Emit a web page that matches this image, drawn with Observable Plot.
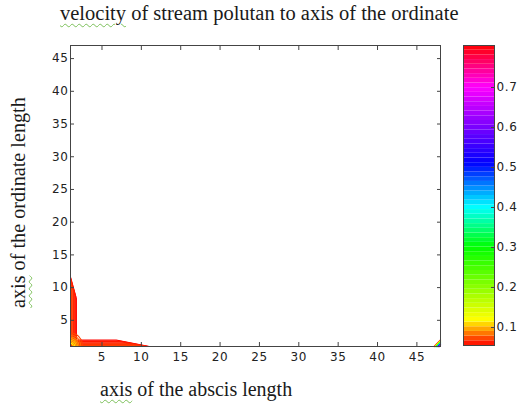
<!DOCTYPE html>
<html>
<head>
<meta charset="utf-8">
<script src="https://cdn.jsdelivr.net/npm/d3@7"></script>
<script src="https://cdn.jsdelivr.net/npm/@observablehq/plot@0.6"></script>
<style>
  html, body { margin: 0; padding: 0; background: #fff; }
  #wrap { position: relative; width: 520px; height: 406px; overflow: hidden; background: #fff; }
  .lbl { position: absolute; white-space: nowrap; font-family: "Liberation Serif", "Times New Roman", serif;
         font-size: 20px; line-height: 20px; color: #1a1a1a; }
  .sq { text-decoration: underline wavy #7cc05a; text-decoration-thickness: 1px; text-underline-offset: 3px; }
  #cb { position: absolute; left: 463px; top: 40px; }
  #main { position: absolute; left: 0; top: 0; }
  svg text { letter-spacing: 0.6px; }
</style>
</head>
<body>
<div id="wrap">
  <div id="main"></div>
  <div id="cb"></div>
  <div class="lbl" id="title" style="left:60px; top:3px; font-size:20.5px;"><span class="sq">velocity</span> of stream polutan to axis of the ordinate</div>
  <div class="lbl" id="xlab" style="left:100px; top:379px;"><span class="sq">axis</span> of the abscis length</div>
  <div class="lbl" id="ylab" style="left:8px; top:308px; font-size:20.2px; transform: rotate(-90deg); transform-origin: 0 0;"><span class="sq">axis</span> of the ordinate length</div>
</div>
<script>
// ---- axis ticks ----
const xTicks = [5, 10, 15, 20, 25, 30, 35, 40, 45];
const yTicks = [5, 10, 15, 20, 25, 30, 35, 40, 45];
const cbTicks = [0.1, 0.2, 0.3, 0.4, 0.5, 0.6, 0.7];
const xDomain = [1, 48];
const yDomain = [1, 47];
const cbDomain = [0.055, 0.805];

// ---- colormap (hsv-like) ----
const colorStops = [0.055, 0.118, 0.30, 0.40, 0.51, 0.70, 0.805];
const colorRange = ["#ff0000", "#ffff00", "#00ff00", "#00ffff", "#0000ff", "#ff00ff", "#ff0000"];

// ---- L-shaped contours along the axes (level, where each meets the axes) ----
const lLevels = [0.056, 0.058, 0.060, 0.062, 0.064, 0.066, 0.068, 0.070];
const lTopY   = [11.6, 11.5, 11.4, 11.3, 11.2, 11.0, 10.8, 10.5];
const lKneeY  = [8.3, 8.6, 8.9, 9.2, 9.5, 9.7, 9.9, 10.0];
const lStripX = [1.75, 1.66, 1.57, 1.48, 1.39, 1.30, 1.21, 1.12];
const lStripY = [2.0, 1.88, 1.76, 1.64, 1.52, 1.40, 1.28, 1.16];
const lKneeX  = [6.8, 7.1, 7.4, 7.7, 8.0, 8.3, 8.6, 8.9];
const lEndX   = [11.0, 10.9, 10.8, 10.7, 10.6, 10.5, 10.4, 10.3];

// ---- corner contours near the origin ----
const cLevels = [0.072, 0.080, 0.088, 0.096, 0.104, 0.112, 0.120];
const cRadius = [1.3, 1.1, 0.9, 0.75, 0.6, 0.45, 0.3];

// ---- small contour fan in the far corner ----
const rLevels = [0.06, 0.12, 0.22, 0.32, 0.42, 0.52, 0.62, 0.72];
const rStartX = [47.2, 47.3, 47.4, 47.5, 47.6, 47.7, 47.8, 47.9];
const rTopY   = [2.0, 1.9, 1.75, 1.6, 1.5, 1.35, 1.25, 1.1];

// build tables
const lRows = [];
lLevels.forEach((lv, i) => {
  const pts = [[1, lTopY[i]], [lStripX[i], lKneeY[i]], [lStripX[i], lStripY[i]],
               [lKneeX[i], lStripY[i]], [lEndX[i], 1]];
  pts.forEach(([x, y]) => lRows.push({id: "l" + i, level: lv, x, y}));
});
const cRows = [];
cLevels.forEach((lv, i) => {
  const r = cRadius[i];
  [[0, 1], [0.5, 0.87], [0.87, 0.5], [1, 0]].forEach(([a, b]) =>
    cRows.push({id: "c" + i, level: lv, x: 1 + a * r * 1.2, y: 1 + b * r * 1.6}));
});
const rRows = [];
rLevels.forEach((lv, i) => {
  rRows.push({id: "r" + i, level: lv, x: rStartX[i], y: 1});
  rRows.push({id: "r" + i, level: lv, x: xDomain[1], y: rTopY[i]});
});

const colorOpts = {type: "linear", domain: colorStops, range: colorRange, interpolate: "rgb"};
const styleOpts = {fontFamily: "DejaVu Sans, sans-serif", fontSize: "12px", color: "#222", background: "transparent", overflow: "visible"};

const main = Plot.plot({
  width: 520, height: 406,
  marginLeft: 70, marginRight: 80, marginTop: 45, marginBottom: 60,
  x: {domain: xDomain, label: null},
  y: {domain: yDomain, label: null},
  color: colorOpts,
  style: styleOpts,
  marks: [
    Plot.line(lRows, {x: "x", y: "y", z: "id", stroke: "level", strokeWidth: 1.1}),
    Plot.line(cRows, {x: "x", y: "y", z: "id", stroke: "level", strokeWidth: 1.1, curve: "catmull-rom"}),
    Plot.line(rRows, {x: "x", y: "y", z: "id", stroke: "level", strokeWidth: 1.3}),
    Plot.frame({stroke: "#444", strokeWidth: 1}),
    Plot.axisX({ticks: xTicks, tickSize: -4, tickPadding: 10, label: null, stroke: "#444", fontSize: 12}),
    Plot.axisX({anchor: "top", ticks: xTicks, tickSize: -4, tickFormat: () => "", label: null, stroke: "#444"}),
    Plot.axisY({ticks: yTicks, tickSize: -4, tickPadding: 6, label: null, stroke: "#444", fontSize: 12}),
    Plot.axisY({anchor: "right", ticks: yTicks, tickSize: -4, tickFormat: () => "", label: null, stroke: "#444"})
  ]
});
document.getElementById("main").appendChild(main);

// colorbar bands spanning the color domain
const nBands = 64;
const step = (cbDomain[1] - cbDomain[0]) / nBands;
const bands = d3.range(nBands).map(k => ({y1: cbDomain[0] + k * step, y2: cbDomain[0] + (k + 1) * step}));

const cb = Plot.plot({
  width: 57, height: 310,
  marginLeft: 0, marginRight: 26, marginTop: 5, marginBottom: 5,
  x: {domain: [0, 1], axis: null},
  y: {domain: cbDomain, label: null},
  color: colorOpts,
  style: styleOpts,
  marks: [
    Plot.rect(bands, {x1: 0, x2: 1, y1: "y1", y2: "y2", fill: d => (d.y1 + d.y2) / 2}),
    Plot.frame({stroke: "#444", strokeWidth: 1}),
    Plot.axisY({anchor: "right", ticks: cbTicks, tickSize: -4, tickPadding: 6, label: null, stroke: "#444", fontSize: 12})
  ]
});
document.getElementById("cb").appendChild(cb);
</script>
</body>
</html>
